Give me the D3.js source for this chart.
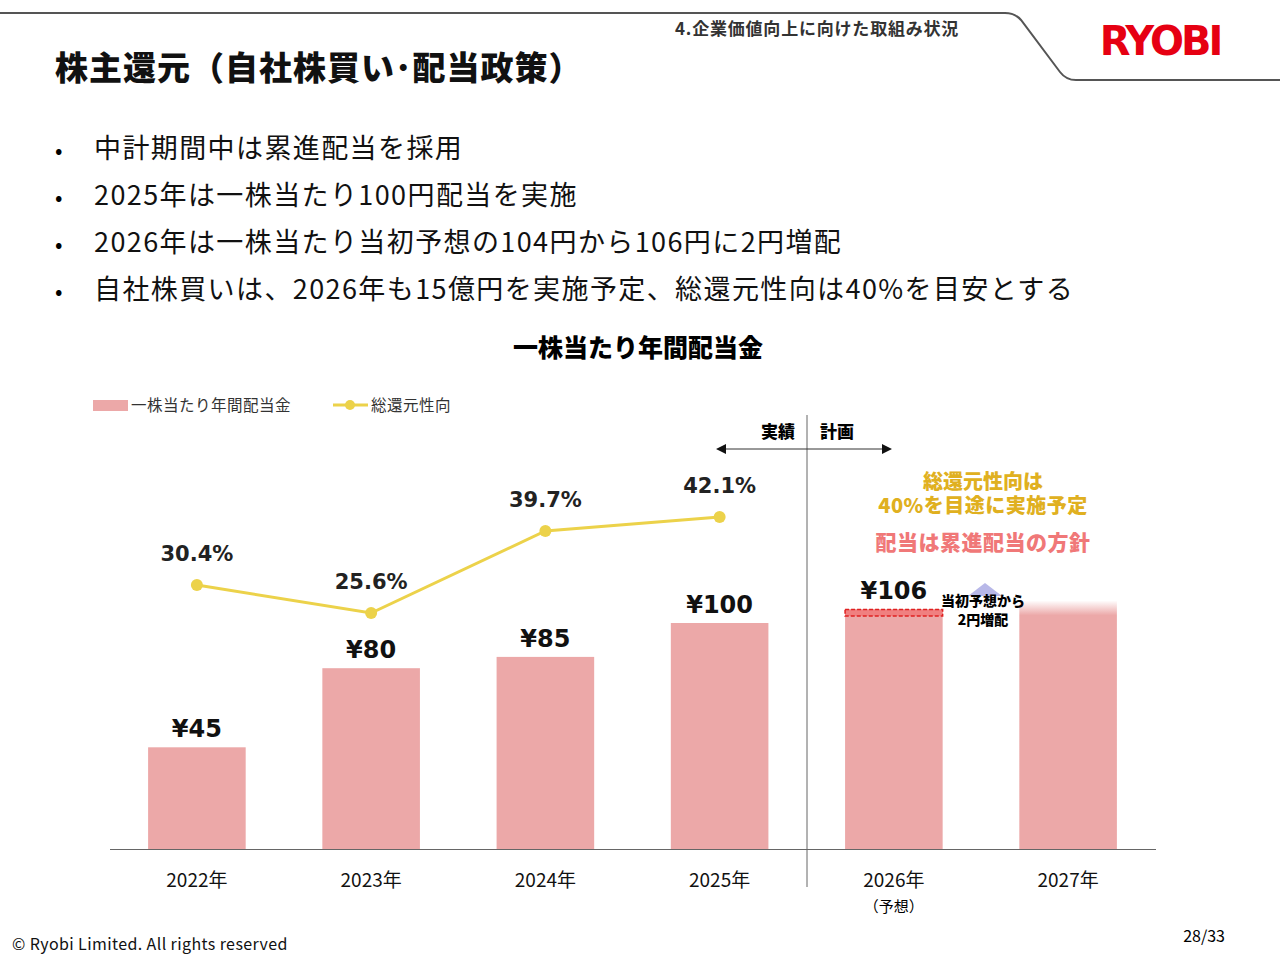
<!DOCTYPE html><html><head><meta charset="utf-8"><script src="https://cdn.jsdelivr.net/npm/d3@7"></script>
<style>body{margin:0;background:#fff}svg{font-family:"Noto Sans CJK JP","Noto Sans",sans-serif}</style></head><body><svg id="c" width="1280" height="960"></svg>
<script>
const years=["2022年","2023年","2024年","2025年","2026年","2027年"];
const dividends=[45,80,85,100,106,106];
const divLabels=["¥45","¥80","¥85","¥100","¥106",""];
const payout=[30.4,25.6,39.7,42.1];
const payoutLabels=["30.4%","25.6%","39.7%","42.1%"];
const bullets=["中計期間中は累進配当を採用","2025年は一株当たり100円配当を実施","2026年は一株当たり当初予想の104円から106円に2円増配","自社株買いは、2026年も15億円を実施予定、総還元性向は40%を目安とする"];
const svg=d3.select("#c");
const defs=svg.append("defs");
const g=defs.append("linearGradient").attr("id","fade").attr("x1",0).attr("x2",0).attr("y1",0).attr("y2",1);
g.append("stop").attr("offset","0").attr("stop-color","#eca8a8").attr("stop-opacity",0);
g.append("stop").attr("offset","0.06").attr("stop-color","#eca8a8").attr("stop-opacity",1);
g.append("stop").attr("offset","1").attr("stop-color","#eca8a8").attr("stop-opacity",1);
// header
svg.append("path").attr("d","M0,13 L1005,13 Q1015,13 1021,20 L1060,72 Q1066,80 1076,80 L1280,80").attr("fill","none").attr("stroke","#555").attr("stroke-width",2);
svg.append("text").attr("x",675).attr("y",35).attr("font-size",17).attr("font-weight",700).attr("fill","#333").attr("letter-spacing",0.8).text("4.企業価値向上に向けた取組み状況");
svg.append("text").attr("x",1160).attr("y",55).attr("text-anchor","middle").attr("font-size",40).attr("font-weight",900).attr("fill","#e60012").attr("font-family","DejaVu Sans").attr("letter-spacing",-3).text("RYOBI");
svg.append("text").attr("x",55).attr("y",80).attr("font-size",33).attr("font-weight",900).attr("fill","#111").attr("letter-spacing",1).text("株主還元（自社株買い･配当政策）");
bullets.forEach((b,i)=>{
 svg.append("text").attr("x",55).attr("y",158+i*47).attr("font-size",22).text("•");
 svg.append("text").attr("x",94).attr("y",158+i*47).attr("font-size",27).attr("fill","#111").attr("letter-spacing",1.4).text(b);
});
svg.append("text").attr("x",638).attr("y",357).attr("text-anchor","middle").attr("font-size",25).attr("font-weight",900).text("一株当たり年間配当金");
// legend
svg.append("rect").attr("x",93).attr("y",400).attr("width",35).attr("height",11).attr("fill","#eca8a8");
svg.append("text").attr("x",131).attr("y",411).attr("font-size",15.5).attr("fill","#333").attr("letter-spacing",0.5).text("一株当たり年間配当金");
svg.append("line").attr("x1",333).attr("x2",368).attr("y1",405).attr("y2",405).attr("stroke","#ecd24a").attr("stroke-width",3);
svg.append("circle").attr("cx",350).attr("cy",405).attr("r",5).attr("fill","#ecd24a");
svg.append("text").attr("x",371).attr("y",411).attr("font-size",15.5).attr("fill","#333").attr("letter-spacing",0.5).text("総還元性向");
// scales
const x=d3.scaleBand().domain(years).range([115,1150]).paddingInner(0.44).paddingOuter(0.19);
const y=d3.scaleLinear().domain([0,100]).range([849,623]);
const yp=d3.scaleLinear().domain([0,100]).range([762,180]);
svg.selectAll(".bar").data(dividends).join("rect").attr("x",(d,i)=>x(years[i])).attr("y",(d,i)=>i==5?y(d)-9:y(d)).attr("width",x.bandwidth()).attr("height",(d,i)=>i==5?y(0)-y(d)+9:y(0)-y(d)).attr("fill",(d,i)=>i==5?"url(#fade)":"#eca8a8");
svg.selectAll(".bl").data(dividends).join("text").attr("x",(d,i)=>x(years[i])+x.bandwidth()/2).attr("y",d=>y(d)-10).attr("text-anchor","middle").attr("font-size",24).attr("font-weight",700).attr("fill","#111").attr("font-family","DejaVu Sans").text((d,i)=>divLabels[i]);
// dashed 2026 increase
svg.append("rect").attr("x",x(years[4])).attr("y",y(106)).attr("width",x.bandwidth()).attr("height",y(104)-y(106)+2).attr("fill","#f08080").attr("stroke","#e02020").attr("stroke-dasharray","4,2").attr("stroke-width",1.5);
svg.append("path").attr("d","M968,596 L985,583 L1002,596 Z").attr("fill","#b8b8e8");
svg.append("text").attr("x",983).attr("y",606).attr("text-anchor","middle").attr("font-size",14).attr("font-weight",900).text("当初予想から");
svg.append("text").attr("x",983).attr("y",625).attr("text-anchor","middle").attr("font-size",14).attr("font-weight",900).text("2円増配");
// line
const cx=i=>x(years[i])+x.bandwidth()/2;
svg.append("path").datum(payout).attr("d",d3.line().x((d,i)=>cx(i)).y(d=>yp(d))).attr("fill","none").attr("stroke","#ecd24a").attr("stroke-width",3);
svg.selectAll(".pt").data(payout).join("circle").attr("cx",(d,i)=>cx(i)).attr("cy",d=>yp(d)).attr("r",6).attr("fill","#ecd24a");
svg.selectAll(".pl").data(payout).join("text").attr("x",(d,i)=>cx(i)).attr("y",d=>yp(d)-24).attr("text-anchor","middle").attr("font-size",21).attr("font-weight",700).attr("fill","#222").attr("font-family","DejaVu Sans").text((d,i)=>payoutLabels[i]);
// axis
const ax=svg.append("g").attr("transform","translate(0,849)").call(d3.axisBottom(x).tickSize(0).tickPadding(25));
ax.select(".domain").attr("stroke","#666").attr("d","M110,0.5H1156");
ax.selectAll("text").attr("font-size",19).attr("fill","#111").attr("font-family","Noto Sans CJK JP");
svg.append("text").attr("x",cx(4)).attr("y",912).attr("text-anchor","middle").attr("font-size",15).text("（予想）");
// divider
svg.append("line").attr("x1",807).attr("x2",807).attr("y1",415).attr("y2",887).attr("stroke","#666");
svg.append("line").attr("x1",718).attr("x2",890).attr("y1",449).attr("y2",449).attr("stroke","#333");
svg.append("path").attr("d","M716,449 L726,444 L726,454Z M892,449 L882,444 L882,454Z").attr("fill","#111");
svg.append("text").attr("x",795).attr("y",438).attr("text-anchor","end").attr("font-size",17).attr("font-weight",900).text("実績");
svg.append("text").attr("x",820).attr("y",438).attr("font-size",17).attr("font-weight",900).text("計画");
svg.append("text").attr("x",983).attr("y",489).attr("text-anchor","middle").attr("font-size",20).attr("font-weight",900).attr("fill","#e0b020").text("総還元性向は");
svg.append("text").attr("x",983).attr("y",513).attr("text-anchor","middle").attr("font-size",20).attr("font-weight",900).attr("fill","#e0b020").attr("letter-spacing",0.5).text("40%を目途に実施予定");
svg.append("text").attr("x",983).attr("y",550).attr("text-anchor","middle").attr("font-size",21).attr("font-weight",900).attr("fill","#f07878").attr("letter-spacing",0.5).text("配当は累進配当の方針");
svg.append("text").attr("x",12).attr("y",950).attr("font-size",16).attr("fill","#111").attr("letter-spacing",0.4).text("© Ryobi Limited. All rights reserved");
svg.append("text").attr("x",1225).attr("y",942).attr("text-anchor","end").attr("font-size",16).text("28/33");
</script></body></html>
